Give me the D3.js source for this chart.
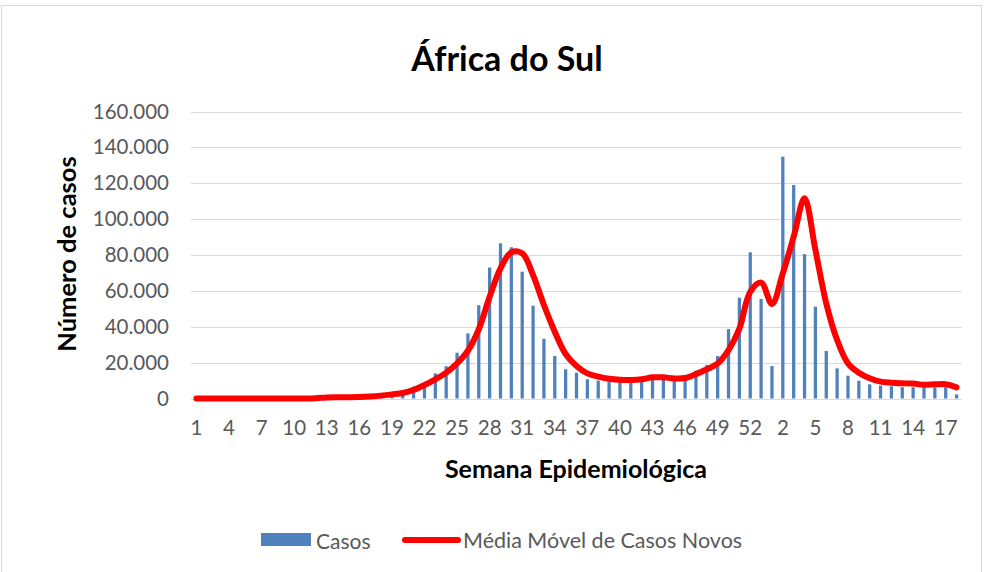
<!DOCTYPE html>
<html>
<head>
<meta charset="utf-8">
<script src="https://cdn.jsdelivr.net/npm/d3@7"></script>
<style>
  html, body { margin: 0; padding: 0; background: #fff; }
  svg { display: block; font-family: Lato, "Open Sans", sans-serif; }
</style>
</head>
<body>
<svg id="chart" width="984" height="572"></svg>
<script>
// ---- Data ----
const weeks2020 = d3.range(1, 54).map(String);
const weeks2021 = d3.range(1, 19).map(String);
const categories = weeks2020.concat(weeks2021);

const casos2020 = [0,0,0,0,0,0,0,0,0,10,50,300,900,400,600,900,1300,1900,2600,3400,
  6600,8800,14000,18000,25500,36300,52000,73000,86500,84300,70700,51700,33300,23700,16300,14400,
  10700,10000,9500,9500,9500,10000,11000,10500,11000,12000,15500,18700,23700,38700,56200,81500,55500];
const casos2021 = [18100,134800,119000,80500,51200,26500,16800,12700,9900,7900,7200,6800,6300,6300,6200,6300,6300,2300];
const casos = casos2020.concat(casos2021);

const media2020 = [0,0,0,0,0,0,0,0,0,0,50,200,600,700,700,800,1100,1600,2300,3100,
  4800,7500,10700,14400,19600,26600,38600,56700,72600,81500,81000,68800,52100,37200,24800,18100,
  14000,12200,11000,10400,10300,10700,11800,11800,11200,11400,13600,16300,19500,27000,39000,59500,64600];
const media2021 = [52700,69800,90200,111600,82800,53000,32600,19600,14400,11300,9400,8800,8500,8300,7700,7900,7900,6200];
const media = media2020.concat(media2021);

const yTicks = [0,20000,40000,60000,80000,100000,120000,140000,160000];

const titleText = "África do Sul";
const xTitle = "Semana Epidemiológica";
const yTitle = "Número de casos";
const seriesNames = ["Casos", "Média Móvel de Casos Novos"];

// ---- Layout ----
const svg = d3.select("#chart");
const W = 984, H = 572;
const plot = { left: 191, right: 962, top: 111.5, bottom: 398.5 };

svg.append("rect").attr("x", 1.5).attr("y", 5.5).attr("width", W - 4).attr("height", H - 4)
  .attr("fill", "#fff").attr("stroke", "#d9d9d9");

const idx = d3.range(categories.length);
const x = d3.scaleBand().domain(idx).range([plot.left, plot.right])
  .paddingInner(0.7).paddingOuter(0.35);
const cx = i => x(i) + x.bandwidth() / 2;
const y = d3.scaleLinear().domain([0, 160000]).range([plot.bottom, plot.top]);

const loc = d3.formatLocale({ decimal: ",", thousands: ".", grouping: [3], currency: ["", ""] });
const fmt = loc.format(",");

// gridlines
svg.append("g").selectAll("line").data(yTicks).join("line")
  .attr("x1", plot.left).attr("x2", plot.right)
  .attr("y1", d => Math.round(y(d)) + 0.5).attr("y2", d => Math.round(y(d)) + 0.5)
  .attr("stroke", "#d9d9d9").attr("stroke-width", 1);

// y axis
const yAxis = svg.append("g").attr("transform", `translate(${plot.left},0)`)
  .call(d3.axisLeft(y).tickValues(yTicks).tickFormat(d => d === 0 ? "0" : fmt(d)).tickSize(0).tickPadding(22));
yAxis.select(".domain").remove();
yAxis.selectAll("text").attr("fill", "#595959").style("font-size", "20.5px").style("font-family", "Lato, sans-serif");

// x axis
const xAxis = svg.append("g").attr("transform", `translate(0,${plot.bottom})`)
  .call(d3.axisBottom(x).tickValues(idx.filter(i => i % 3 === 0)).tickFormat(i => categories[i]).tickSize(0).tickPadding(22));
xAxis.select(".domain").remove();
xAxis.selectAll("text").attr("fill", "#595959").style("font-size", "20.5px").style("font-family", "Lato, sans-serif");

// bars
svg.append("g").selectAll("rect").data(casos).join("rect")
  .attr("x", (d, i) => x(i)).attr("width", x.bandwidth())
  .attr("y", d => y(d)).attr("height", d => y(0) - y(d))
  .attr("fill", "#4f81bd");

// moving average line
const line = d3.line().x((d, i) => cx(i)).y(d => y(d)).curve(d3.curveCatmullRom.alpha(0.5));
svg.append("path").datum(media).attr("d", line)
  .attr("fill", "none").attr("stroke", "#ff0000").attr("stroke-width", 6)
  .attr("stroke-linecap", "round").attr("stroke-linejoin", "round");

// titles
svg.append("text").attr("x", 507).attr("y", 71).attr("text-anchor", "middle")
  .style("font-size", "34px").style("font-weight", "bold").attr("fill", "#000").text(titleText);
svg.append("text").attr("x", 576).attr("y", 478).attr("text-anchor", "middle")
  .style("font-size", "25px").style("font-weight", "bold").attr("fill", "#000").text(xTitle);
svg.append("text").attr("transform", "translate(76,254) rotate(-90)").attr("text-anchor", "middle")
  .style("font-size", "25.5px").style("font-weight", "bold").attr("fill", "#000").text(yTitle);

// legend
const lg = svg.append("g");
lg.append("rect").attr("x", 261).attr("y", 533).attr("width", 50).attr("height", 13).attr("fill", "#4f81bd");
lg.append("text").attr("x", 316).attr("y", 540).attr("dominant-baseline", "central")
  .style("font-size", "21px").attr("fill", "#595959").text(seriesNames[0]);
lg.append("line").attr("x1", 405).attr("x2", 458).attr("y1", 540).attr("y2", 540)
  .attr("stroke", "#ff0000").attr("stroke-width", 6).attr("stroke-linecap", "round");
lg.append("text").attr("x", 463).attr("y", 540).attr("dominant-baseline", "central")
  .style("font-size", "21.5px").attr("fill", "#595959").text(seriesNames[1]);
</script>
</body>
</html>
